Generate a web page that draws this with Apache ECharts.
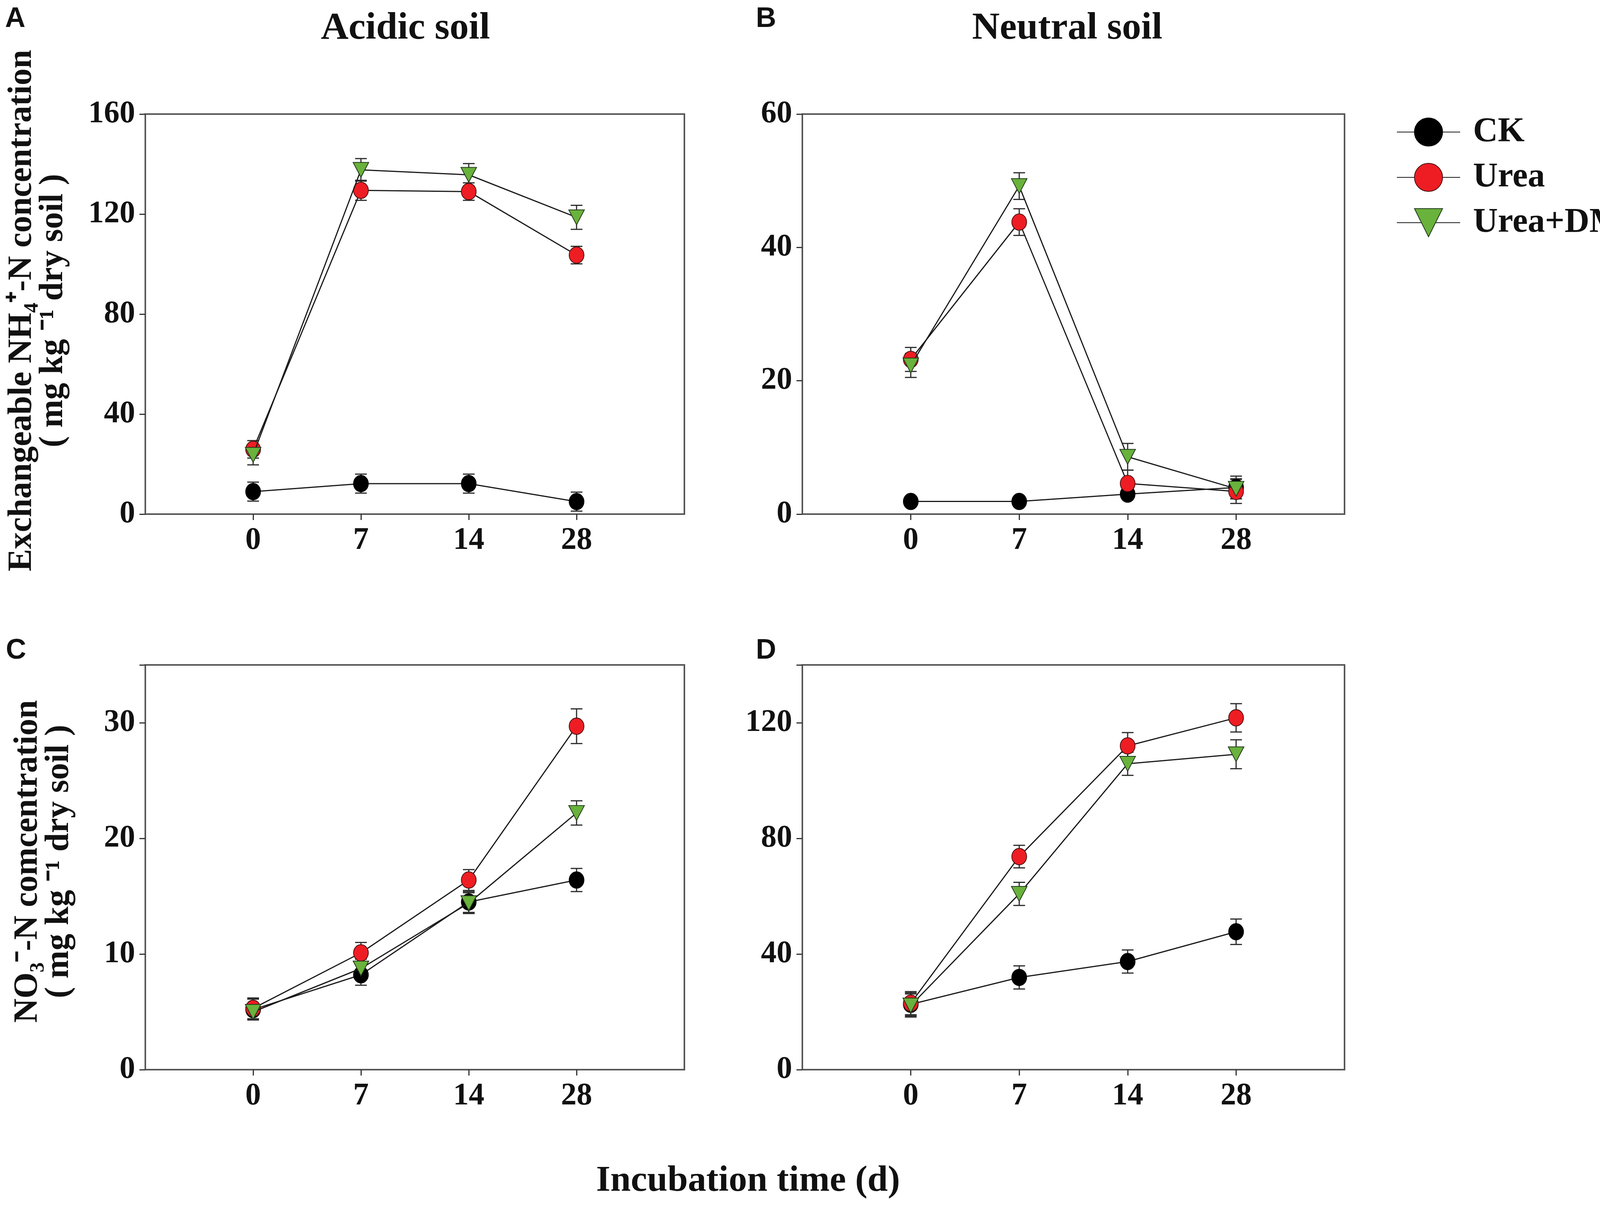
<!DOCTYPE html>
<html>
<head>
<meta charset="utf-8">
<script src="https://cdn.jsdelivr.net/npm/echarts@6.0.0/dist/echarts.min.js"></script>
<style>
  html, body { margin: 0; padding: 0; background: #fff; overflow: hidden; }
  #main { width: 4328px; height: 3087px; }
</style>
</head>
<body>
<div id="main"></div>
<script>
// incubation days (categories)
var days = ['0', '7', '14', '28'];
var treatments = ['CK', 'Urea', 'Urea+DMPP'];

// A - acidic soil, NH4+-N
var acidNH4CK = [9.0, 12.2, 12.2, 5.0];
var acidNH4Urea = [25.9, 129.5, 129.0, 103.6];
var acidNH4DMPP = [23.7, 137.7, 135.7, 118.7];
var acidNH4CKErr = [3.8, 3.8, 3.8, 3.8];
var acidNH4UreaErr = [3.5, 4.0, 3.5, 3.5];
var acidNH4DMPPErr = [4.0, 4.5, 4.5, 4.8];

// B - neutral soil, NH4+-N
var neutNH4CK = [1.9, 1.9, 3.0, 4.0];
var neutNH4Urea = [23.2, 43.8, 4.6, 3.4];
var neutNH4DMPP = [22.3, 49.2, 8.6, 3.8];
var neutNH4CKErr = [0.6, 0.5, 0.6, 1.7];
var neutNH4UreaErr = [1.8, 2.0, 2.0, 1.8];
var neutNH4DMPPErr = [1.8, 2.0, 2.0, 1.5];

// C - acidic soil, NO3--N
var acidNO3CK = [5.2, 8.2, 14.5, 16.4];
var acidNO3Urea = [5.3, 10.1, 16.4, 29.7];
var acidNO3DMPP = [5.0, 8.75, 14.4, 22.2];
var acidNO3CKErr = [0.9, 0.9, 0.9, 1.0];
var acidNO3UreaErr = [0.9, 0.9, 0.9, 1.5];
var acidNO3DMPPErr = [0.7, 0.8, 0.9, 1.05];

// D - neutral soil, NO3--N
var neutNO3CK = [22.6, 31.9, 37.4, 47.7];
var neutNO3Urea = [23.0, 73.7, 112.0, 121.7];
var neutNO3DMPP = [22.2, 60.8, 105.8, 109.1];
var neutNO3CKErr = [4.0, 4.0, 4.0, 4.4];
var neutNO3UreaErr = [4.0, 3.9, 4.6, 4.9];
var neutNO3DMPPErr = [4.0, 4.0, 4.0, 5.0];

// y axis tick labels per panel
var yTicksA = [0, 40, 80, 120, 160];
var yTicksB = [0, 20, 40, 60];
var yTicksC = [0, 10, 20, 30];
var yTicksD = [0, 40, 80, 120];

var serif = '"Liberation Serif", "Times New Roman", serif';
var axisCol = '#555555';

var panels = [
    { grid: { left: 372, top: 292, width: 1380, height: 1024 }, yMax: 160, yInt: 40, ticks: yTicksA,
      means: [acidNH4CK, acidNH4Urea, acidNH4DMPP], errs: [acidNH4CKErr, acidNH4UreaErr, acidNH4DMPPErr] },
    { grid: { left: 2054, top: 292, width: 1388, height: 1024 }, yMax: 60, yInt: 20, ticks: yTicksB,
      means: [neutNH4CK, neutNH4Urea, neutNH4DMPP], errs: [neutNH4CKErr, neutNH4UreaErr, neutNH4DMPPErr] },
    { grid: { left: 372, top: 1702, width: 1380, height: 1036 }, yMax: 35, yInt: 10, ticks: yTicksC,
      means: [acidNO3CK, acidNO3Urea, acidNO3DMPP], errs: [acidNO3CKErr, acidNO3UreaErr, acidNO3DMPPErr] },
    { grid: { left: 2054, top: 1702, width: 1388, height: 1036 }, yMax: 140, yInt: 40, ticks: yTicksD,
      means: [neutNO3CK, neutNO3Urea, neutNO3DMPP], errs: [neutNO3CKErr, neutNO3UreaErr, neutNO3DMPPErr] }
];

var styles = [
    { symbol: 'circle', size: [38, 42], rotate: 0, color: '#000000', border: '#000000' },
    { symbol: 'circle', size: [38, 42], rotate: 0, color: '#ee1d23', border: '#4a1010' },
    { symbol: 'triangle', size: [40, 38], rotate: 180, color: '#69b23c', border: '#22381a' }
];

function errRender(params, api) {
    var x = api.value(0), m = api.value(1), e = api.value(2);
    var top = api.coord([x, m + e]);
    var bot = api.coord([x, m - e]);
    var hw = 15;
    var st = { stroke: '#2b2b2b', lineWidth: 3 };
    return {
        type: 'group',
        children: [
            { type: 'line', shape: { x1: top[0], y1: top[1], x2: bot[0], y2: bot[1] }, style: st },
            { type: 'line', shape: { x1: top[0] - hw, y1: top[1], x2: top[0] + hw, y2: top[1] }, style: st },
            { type: 'line', shape: { x1: bot[0] - hw, y1: bot[1], x2: bot[0] + hw, y2: bot[1] }, style: st }
        ]
    };
}

var grids = [], xAxes = [], yAxes = [], series = [];
panels.forEach(function (p, k) {
    grids.push(Object.assign({ show: true, borderColor: axisCol, borderWidth: 4 }, p.grid));
    xAxes.push({
        gridIndex: k, type: 'value', min: -1, max: 4, interval: 1,
        axisLine: { show: true, onZero: false, lineStyle: { color: axisCol, width: 4 } },
        axisTick: { show: true, customValues: [0, 1, 2, 3], length: 15, lineStyle: { color: '#333', width: 3 } },
        axisLabel: {
            customValues: [0, 1, 2, 3], margin: 28,
            formatter: function (v) { return days[v]; },
            fontFamily: serif, fontWeight: 'bold', fontSize: 80, color: '#111'
        },
        splitLine: { show: false }
    });
    yAxes.push({
        gridIndex: k, type: 'value', min: 0, max: p.yMax, interval: p.yInt,
        axisLine: { show: true, onZero: false, lineStyle: { color: axisCol, width: 4 } },
        axisTick: { show: true, length: 15, lineStyle: { color: '#333', width: 3 } },
        axisLabel: {
            customValues: p.ticks, margin: 26,
            fontFamily: serif, fontWeight: 'bold', fontSize: 80, color: '#111'
        },
        splitLine: { show: false }
    });
    // error bars first so markers sit on top
    p.means.forEach(function (vals, t) {
        series.push({
            type: 'custom', xAxisIndex: k, yAxisIndex: k, z: 1, silent: true,
            renderItem: errRender,
            data: vals.map(function (v, i) { return [i, v, p.errs[t][i]]; })
        });
    });
    p.means.forEach(function (vals, t) {
        var s = styles[t];
        series.push({
            name: treatments[t], type: 'line', xAxisIndex: k, yAxisIndex: k, z: 3 + t,
            symbol: s.symbol, symbolSize: s.size, symbolRotate: s.rotate,
            lineStyle: { color: '#1a1a1a', width: 3 },
            itemStyle: { color: s.color, borderColor: s.border, borderWidth: 2 },
            data: vals.map(function (v, i) { return [i, v]; })
        });
    });
});

var labelFont = { fontFamily: serif, fontWeight: 'bold', fill: '#111' };
function txt(x, y, text, size, extra) {
    return {
        type: 'text', x: x, y: y,
        style: Object.assign({ text: text, fontSize: size, align: 'center', verticalAlign: 'middle' }, labelFont, extra || {})
    };
}

var sans = '"Liberation Sans", Arial, sans-serif';
var graphics = [
    txt(1038, 74, 'Acidic soil', 98),
    txt(2732, 74, 'Neutral soil', 98),
    txt(1915, 3024, 'Incubation time (d)', 94),
    txt(13, 49, 'A', 72, { align: 'left', fontFamily: sans }),
    txt(1935, 49, 'B', 72, { align: 'left', fontFamily: sans }),
    txt(15, 1666, 'C', 72, { align: 'left', fontFamily: sans }),
    txt(1935, 1666, 'D', 72, { align: 'left', fontFamily: sans })
];
var yName1 = txt(97, 795, 'Exchangeable NH\u2084\u207A-N concentration\n( mg kg \u207B\u00B9 dry soil )', 86, { lineHeight: 80 });
yName1.rotation = Math.PI / 2;
var yName2 = txt(112, 2205, 'NO\u2083\u207B-N comcentration\n( mg kg \u207B\u00B9 dry soil )', 86, { lineHeight: 80 });
yName2.rotation = Math.PI / 2;
graphics.push(yName1, yName2);

var option = {
    animation: false,
    backgroundColor: '#ffffff',
    grid: grids,
    xAxis: xAxes,
    yAxis: yAxes,
    legend: {
        data: treatments,
        orient: 'vertical',
        left: 3570, top: 289,
        itemWidth: 162, itemHeight: 90, itemGap: 28,
        textStyle: { fontFamily: serif, fontWeight: 'bold', fontSize: 88, color: '#111', padding: [0, 0, 0, 28] }
    },
    graphic: graphics,
    series: series
};

var chart = echarts.init(document.getElementById('main'));
chart.setOption(option);
</script>
</body>
</html>
